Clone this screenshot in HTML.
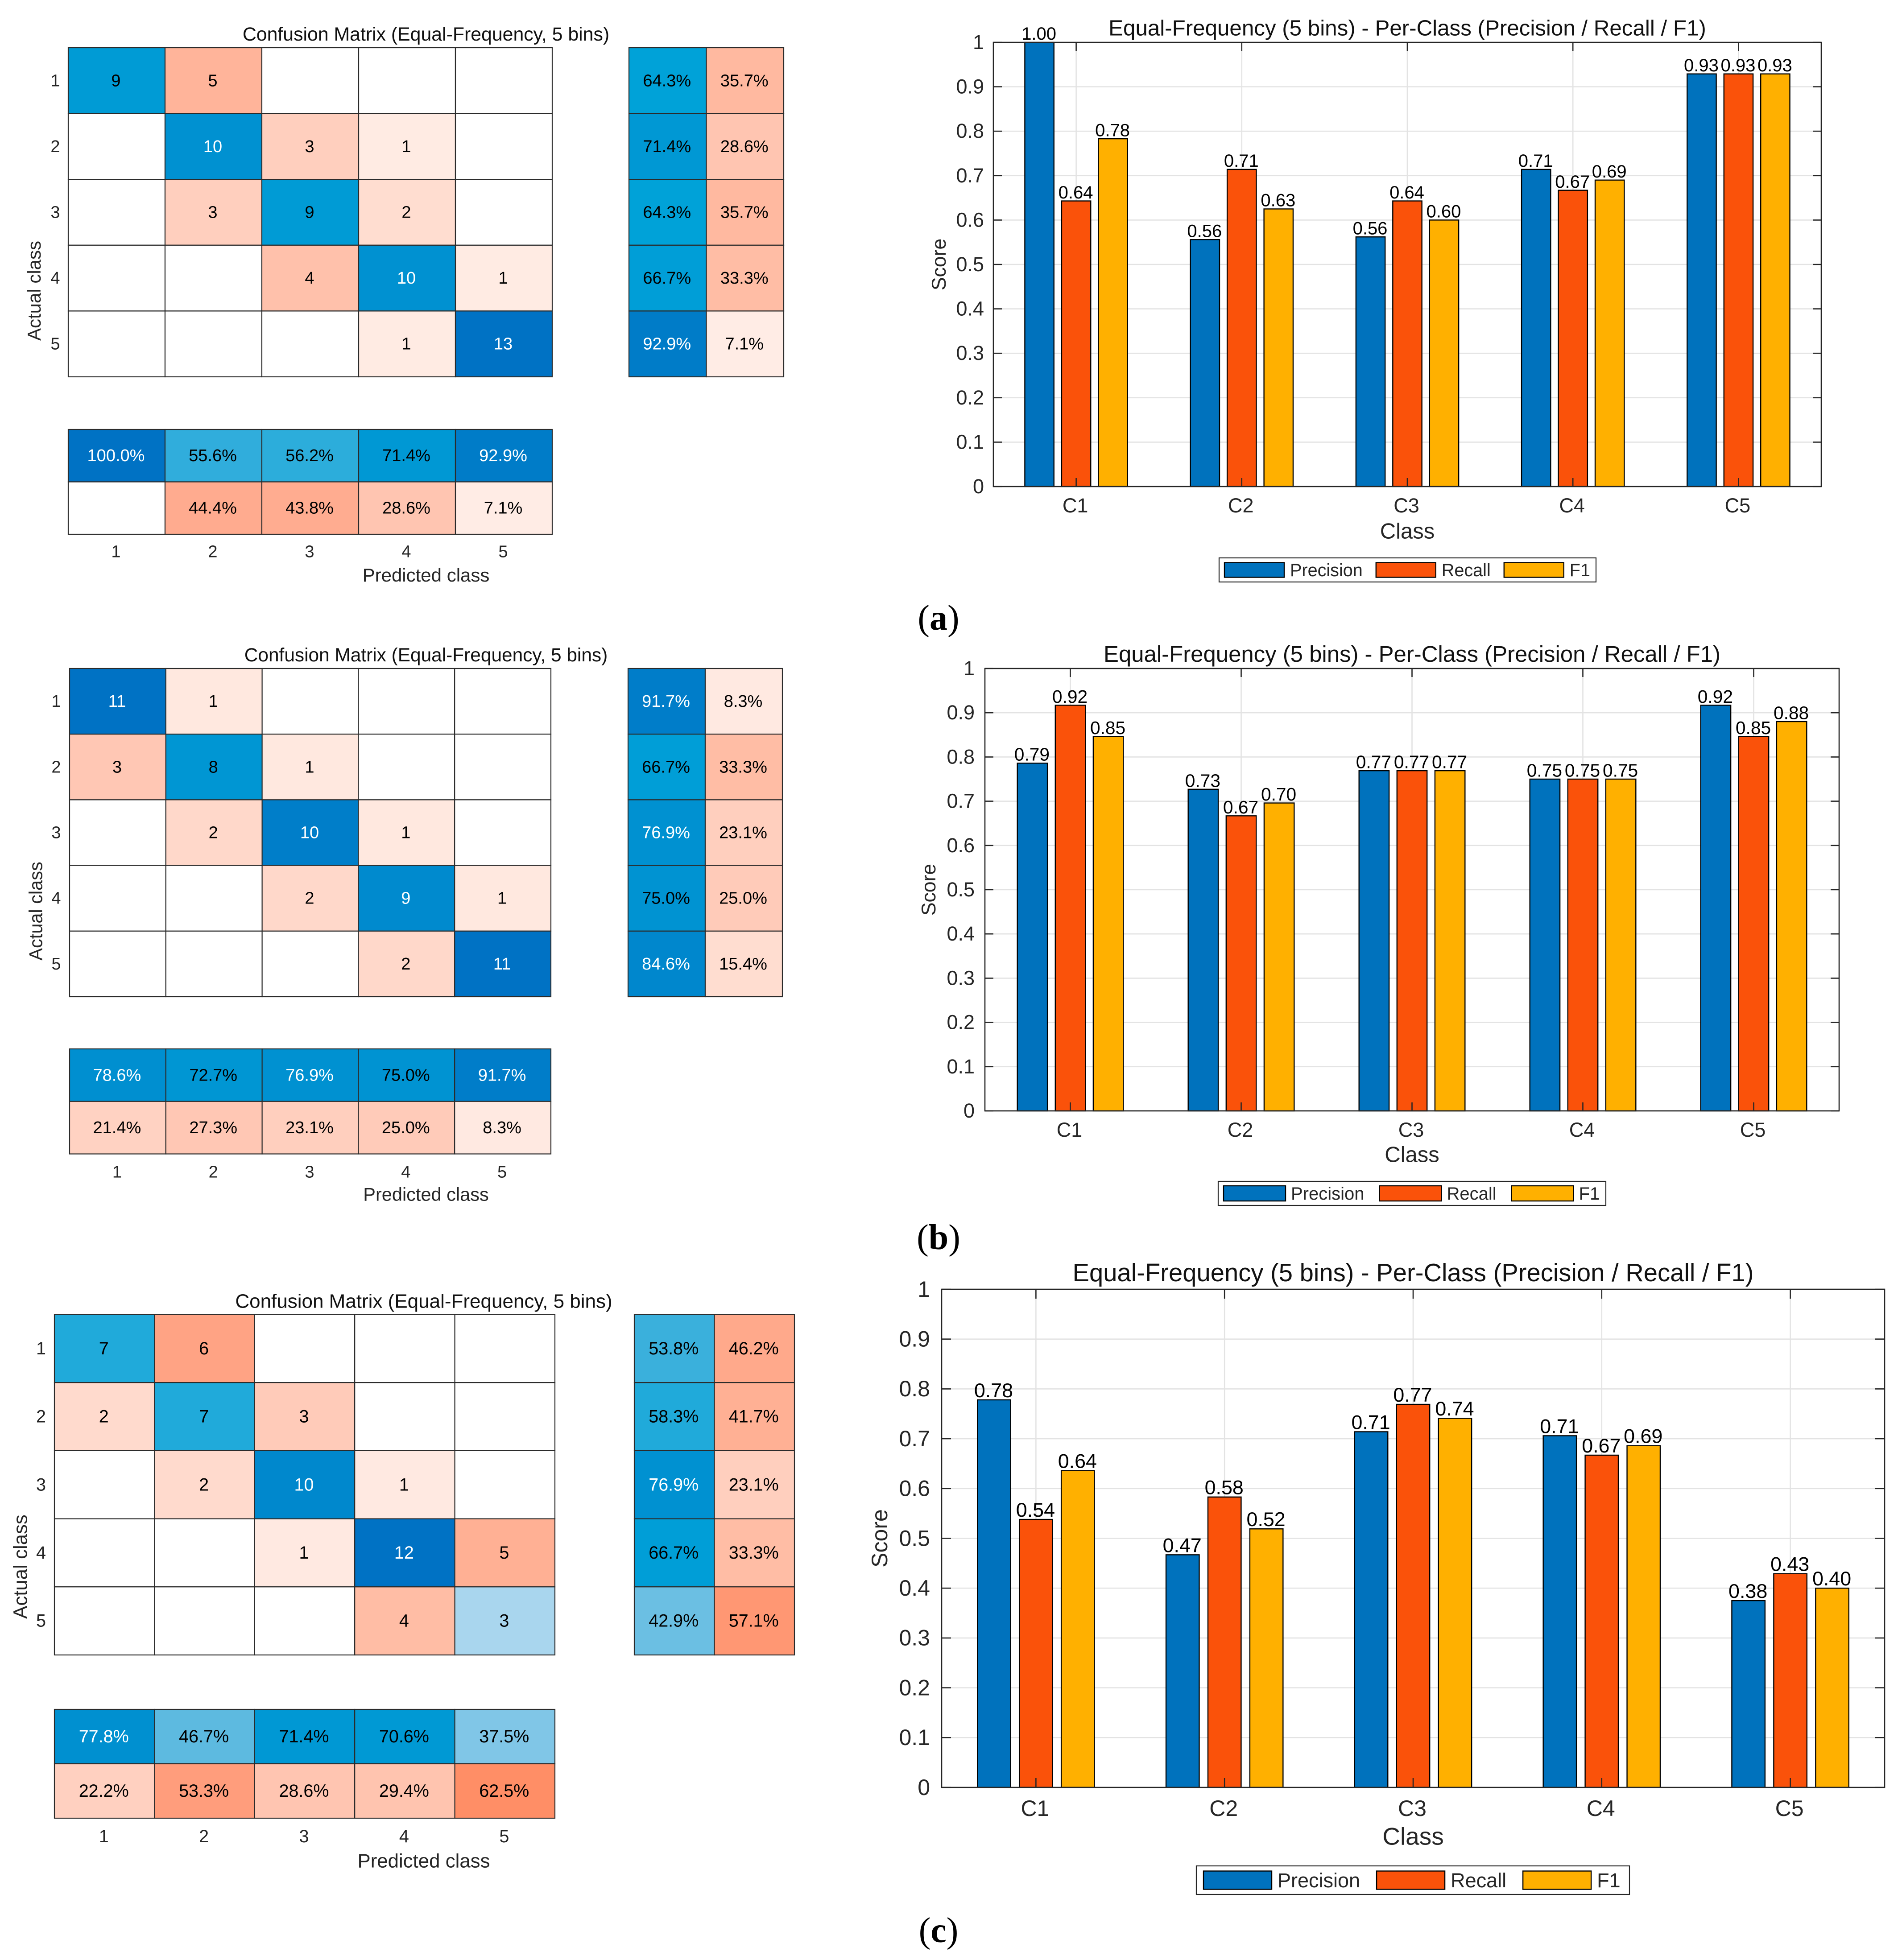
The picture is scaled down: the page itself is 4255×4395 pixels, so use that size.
<!DOCTYPE html>
<html lang="en">
<head>
<meta charset="utf-8">
<title>Equal-Frequency confusion matrices and per-class scores</title>
<style>
html,body{margin:0;padding:0;background:#fff;}
svg{display:block;font-family:"Liberation Sans",sans-serif;}
</style>
</head>
<body>
<svg id="figure" xmlns="http://www.w3.org/2000/svg" width="4255" height="4395" viewBox="0 0 4255 4395">
<rect width="4255" height="4395" fill="#ffffff"/>
</svg>
<script>
// ---- Data ----
const classIndex = ['1','2','3','4','5'];
const classNames = ['C1','C2','C3','C4','C5'];
const scoreTicks = [0,0.1,0.2,0.3,0.4,0.5,0.6,0.7,0.8,0.9,1];
const seriesNames = ['Precision','Recall','F1'];

const matrixA = [[9,5,0,0,0],[0,10,3,1,0],[0,3,9,2,0],[0,0,4,10,1],[0,0,0,1,13]];
const matrixB = [[11,1,0,0,0],[3,8,1,0,0],[0,2,10,1,0],[0,0,2,9,1],[0,0,0,2,11]];
const matrixC = [[7,6,0,0,0],[2,7,3,0,0],[0,2,10,1,0],[0,0,1,12,5],[0,0,0,4,3]];

const precisionA = [1.00,0.556,0.562,0.714,0.929];
const recallA    = [0.643,0.714,0.643,0.667,0.929];
const f1A        = [0.783,0.625,0.600,0.690,0.929];

const precisionB = [0.786,0.727,0.769,0.750,0.917];
const recallB    = [0.917,0.667,0.769,0.750,0.846];
const f1B        = [0.846,0.696,0.769,0.750,0.880];

const precisionC = [0.778,0.467,0.714,0.706,0.375];
const recallC    = [0.538,0.583,0.769,0.667,0.429];
const f1C        = [0.636,0.519,0.741,0.686,0.400];

// ---- Helpers ----
const NS = 'http://www.w3.org/2000/svg';
const figure = document.getElementById('figure');
const INK = '#262626';
const seriesColors = ['#0072BD','#FA520A','#FFB000'];
const blueStops = [[0,255,255,255],[0.25,169,214,238],[0.375,128,198,231],[0.5,80,181,222],[0.64,0,162,216],[1,0,114,196]];
const redStops  = [[0,255,255,255],[0.08,255,234,226],[0.23,255,207,190],[0.36,255,184,159],[0.5,255,163,132],[0.625,255,142,102],[1,255,100,50]];

function ramp(stops,t){
  for(let i=1;i<stops.length;i++){
    if(t<=stops[i][0]){
      const a=stops[i-1],b=stops[i],k=(t-a[0])/(b[0]-a[0]);
      return 'rgb('+[1,2,3].map(j=>Math.round(a[j]+(b[j]-a[j])*k)).join(',')+')';
    }
  }
  const l=stops[stops.length-1];
  return 'rgb('+l[1]+','+l[2]+','+l[3]+')';
}
function mk(parent,tag,attrs){
  const el=document.createElementNS(NS,tag);
  for(const k in attrs) el.setAttribute(k,attrs[k]);
  parent.appendChild(el);
  return el;
}
function txt(parent,x,y,s,size,anchor,fill,rot){
  const attrs={x:x,y:y+size*0.355,'font-size':size,'text-anchor':anchor||'middle',fill:fill||INK};
  if(rot) attrs.transform='rotate('+rot+' '+x+' '+y+')';
  const el=mk(parent,'text',attrs);
  el.textContent=s;
  return el;
}
// printf-style rounding (round half to even) so that 56.25 prints 56.2
function pct(v){
  const s=v*10, f=Math.floor(s), d=s-f;
  let n;
  if(Math.abs(d-0.5)<1e-9) n=(f%2===0)?f:f+1; else n=Math.round(s);
  return (n/10).toFixed(1)+'%';
}

function heatCell(g,x,y,w,h,fill,label,size,textFill){
  const r=mk(g,'rect',{x:x,y:y,width:w,height:h,fill:fill,stroke:'#2b2b2b','stroke-width':2.2});
  
  
  if(label!==''){
    const t=txt(g,x+w/2-1.5,y+h/2-1,label,size,'middle',textFill);
    
    
  }
}

function drawConfusion(panel,matrix,L){
  const g=mk(figure,'g',{});
  
  
  const n=matrix.length;
  const maxV=Math.max.apply(null,matrix.flat());
  const cw=(L.x1-L.x0)/n, ch=(L.y1-L.y0)/n;
  const cellX=c=>L.x0+c*cw, cellY=r=>L.y0+r*ch;
  const rowSum=matrix.map(r=>r.reduce((a,b)=>a+b,0));
  const colSum=matrix[0].map((_,c)=>matrix.reduce((a,r)=>a+r[c],0));
  const inkFor=t=>t>=0.76?'#ffffff':'#000000';

  // main grid
  matrix.forEach((row,r)=>row.forEach((v,c)=>{
    const t=v/maxV;
    const fill=v===0?'#ffffff':(r===c?ramp(blueStops,t):ramp(redStops,t));
    heatCell(g,cellX(c),cellY(r),cw,ch,fill,v===0?'':String(v),L.fs,(r===c)?inkFor(t):'#000000');
  }));
  // row summary
  const rw=(L.rx1-L.rx0)/2;
  matrix.forEach((row,r)=>{
    const good=row[r]/rowSum[r], bad=1-good;
    heatCell(g,L.rx0,cellY(r),rw,ch,ramp(blueStops,good),pct(good*100),L.fs,inkFor(good));
    heatCell(g,L.rx0+rw,cellY(r),rw,ch,ramp(redStops,bad),pct(bad*100),L.fs,'#000000');
  });
  // column summary
  const bh=(L.by1-L.by0)/2;
  matrix[0].forEach((_,c)=>{
    const good=matrix[c][c]/colSum[c], bad=1-good;
    heatCell(g,cellX(c),L.by0,cw,bh,ramp(blueStops,good),pct(good*100),L.fs,inkFor(good));
    heatCell(g,cellX(c),L.by0+bh,cw,bh,bad<1e-9?'#ffffff':ramp(redStops,bad),bad<1e-9?'':pct(bad*100),L.fs,'#000000');
  });
  // tick labels
  classIndex.forEach((s,i)=>{
    const a=txt(g,L.rowTickX,cellY(i)+ch/2-1,s,L.fs,'middle');
    
    
    const b=txt(g,cellX(i)+cw/2-1.5,L.tickY,s,L.fs,'middle');
    
    
  });
  const ti=txt(g,L.cx,L.titleY,'Confusion Matrix (Equal-Frequency, 5 bins)',L.titleFs,'middle','#111111');
  
  
  const xl=txt(g,L.cx,L.xLabelY,'Predicted class',L.labelFs,'middle');
  
  
  const yl=txt(g,L.yLabelX,L.yLabelY,'Actual class',L.labelFs,'middle',INK,-90);
  
  
}

function drawBars(panel,series,L){
  const g=mk(figure,'g',{});
  
  
  const xScale=u=>L.left+(u+0.5)*(L.right-L.left)/classNames.length;
  const yScale=v=>L.bottom-v*(L.bottom-L.top);
  const unit=(L.right-L.left)/classNames.length;

  // grid
  scoreTicks.forEach(v=>{
    const l=mk(g,'line',{x1:L.left,x2:L.right,y1:yScale(v),y2:yScale(v),stroke:'#e3e3e3','stroke-width':2.6});
    
    
  });
  classNames.forEach((_,i)=>{
    const l=mk(g,'line',{x1:xScale(i),x2:xScale(i),y1:L.top,y2:L.bottom,stroke:'#e3e3e3','stroke-width':2.6});
    
    
  });
  // bars
  const barW=unit*0.176, step=unit*0.2222;
  series.forEach((vals,s)=>{
    vals.forEach((v,i)=>{
      const cx=xScale(i)+(s-1)*step;
      const b=mk(g,'rect',{x:cx-barW/2,y:yScale(v),width:barW,height:yScale(0)-yScale(v),fill:seriesColors[s],stroke:'#000000','stroke-width':2.4});
      
      
    });
  });
  // frame & ticks
  const fr=mk(g,'rect',{x:L.left,y:L.top,width:L.right-L.left,height:L.bottom-L.top,fill:'none',stroke:INK,'stroke-width':2.6});
  
  
  const tl=L.tickLen;
  scoreTicks.forEach(v=>{
    const a=mk(g,'line',{x1:L.left,x2:L.left+tl,y1:yScale(v),y2:yScale(v),stroke:INK,'stroke-width':2.6});
    
    
    const b=mk(g,'line',{x1:L.right,x2:L.right-tl,y1:yScale(v),y2:yScale(v),stroke:INK,'stroke-width':2.6});
    
    
    const t=txt(g,L.yTickX,yScale(v)-1,String(v),L.tickFs,'end');
    
    
  });
  classNames.forEach((name,i)=>{
    const a=mk(g,'line',{x1:xScale(i),x2:xScale(i),y1:L.bottom,y2:L.bottom-tl,stroke:INK,'stroke-width':2.6});
    
    
    const b=mk(g,'line',{x1:xScale(i),x2:xScale(i),y1:L.top,y2:L.top+tl,stroke:INK,'stroke-width':2.6});
    
    
    const t=txt(g,xScale(i)-2,L.xTickY,name,L.tickFs,'middle');
    
    
  });
  // value labels
  series.forEach((vals,s)=>{
    vals.forEach((v,i)=>{
      const cx=xScale(i)+(s-1)*step;
      const t=txt(g,cx-1,yScale(v)-L.valueGap,v.toFixed(2),L.valueFs,'middle','#000000');
      
      
    });
  });
  // titles
  const ti=txt(g,(L.left+L.right)/2,L.titleY,'Equal-Frequency (5 bins) - Per-Class (Precision / Recall / F1)',L.titleFs,'middle','#111111');
  
  
  const xl=txt(g,(L.left+L.right)/2,L.xLabelY,'Class',L.labelFs,'middle');
  
  
  const yl=txt(g,L.yLabelX,(L.top+L.bottom)/2,'Score',L.yLabelFs,'middle',INK,-90);
  
  

  // legend
  const lg=mk(g,'g',{});
  
  
  const box=mk(lg,'rect',{x:L.lx0,y:L.ly0,width:L.lx1-L.lx0,height:L.ly1-L.ly0,fill:'#ffffff',stroke:INK,'stroke-width':2.2});
  
  
  let cursor=L.lx0+L.lPad;
  const midY=(L.ly0+L.ly1)/2;
  seriesNames.forEach((name,s)=>{
    const sw=mk(lg,'rect',{x:cursor,y:midY-L.swH/2,width:L.swW,height:L.swH,fill:seriesColors[s],stroke:'#000000','stroke-width':2.4});
    
    
    cursor+=L.swW+L.lTextGap;
    const t=txt(lg,cursor,midY,name,L.legendFs,'start');
    
    
    cursor+=t.getComputedTextLength()+L.lGap;
  });
}

function panelLetter(letter,cx,cy){
  const t=mk(figure,'text',{x:cx,y:cy+28,'text-anchor':'middle','font-size':80,fill:'#000000','font-family':'"Liberation Serif",serif'});
  
  
  const a=document.createTextNode('(');
  const b=document.createElementNS(NS,'tspan');
  b.setAttribute('font-weight','bold');
  b.textContent=letter;
  const c=document.createTextNode(')');
  t.appendChild(a);t.appendChild(b);t.appendChild(c);
}

// ---- Panels ----
drawConfusion('a',matrixA,{x0:153,x1:1238,y0:107,y1:845,rx0:1410,rx1:1757,by0:963,by1:1198,
  cx:955,titleY:76,tickY:1236,xLabelY:1289,yLabelX:76,yLabelY:652,rowTickX:124,fs:38,titleFs:42.8,labelFs:42});
drawConfusion('b',matrixB,{x0:156,x1:1235,y0:1499,y1:2235,rx0:1408,rx1:1754,by0:2352,by1:2587.5,
  cx:955,titleY:1468,tickY:2627,xLabelY:2678,yLabelX:80,yLabelY:2043,rowTickX:126,fs:38,titleFs:42.4,labelFs:41.5});
drawConfusion('c',matrixC,{x0:122,x1:1244,y0:2947.5,y1:3711,rx0:1422,rx1:1781,by0:3833,by1:4077,
  cx:950,titleY:2917,tickY:4117,xLabelY:4172,yLabelX:45,yLabelY:3513,rowTickX:92,fs:39.5,titleFs:44,labelFs:43.8});

drawBars('a',[precisionA,recallA,f1A],{left:2227,right:4083,top:95,bottom:1091,tickLen:19,
  yTickX:2206,xTickY:1133,titleY:62,xLabelY:1190,yLabelX:2104,
  tickFs:45,titleFs:49.3,labelFs:49,yLabelFs:44.5,valueFs:40,valueGap:20,legendFs:39.6,
  lx0:2733,lx1:3578,ly0:1251,ly1:1305,lPad:12,swW:134,swH:33,lTextGap:13,lGap:30});
drawBars('b',[precisionB,recallB,f1B],{left:2208,right:4123,top:1499,bottom:2491,tickLen:19,
  yTickX:2185,xTickY:2533,titleY:1466,xLabelY:2588,yLabelX:2081,
  tickFs:45,titleFs:50.9,labelFs:49,yLabelFs:44.5,valueFs:40.7,valueGap:20,legendFs:40,
  lx0:2731,lx1:3600,ly0:2649,ly1:2703,lPad:12,swW:139,swH:34,lTextGap:12,lGap:34});
drawBars('c',[precisionC,recallC,f1C],{left:2111,right:4225,top:2891,bottom:4008,tickLen:21,
  yTickX:2085,xTickY:4054,titleY:2853,xLabelY:4117,yLabelX:1971,
  tickFs:50,titleFs:56.2,labelFs:55,yLabelFs:50,valueFs:44.8,valueGap:22,legendFs:45,
  lx0:2682,lx1:3653,ly0:4184,ly1:4248,lPad:16,swW:153,swH:41,lTextGap:13,lGap:37});

panelLetter('a',2104,1384);
panelLetter('b',2104,2773);
panelLetter('c',2104,4327);
</script>
</body>
</html>
